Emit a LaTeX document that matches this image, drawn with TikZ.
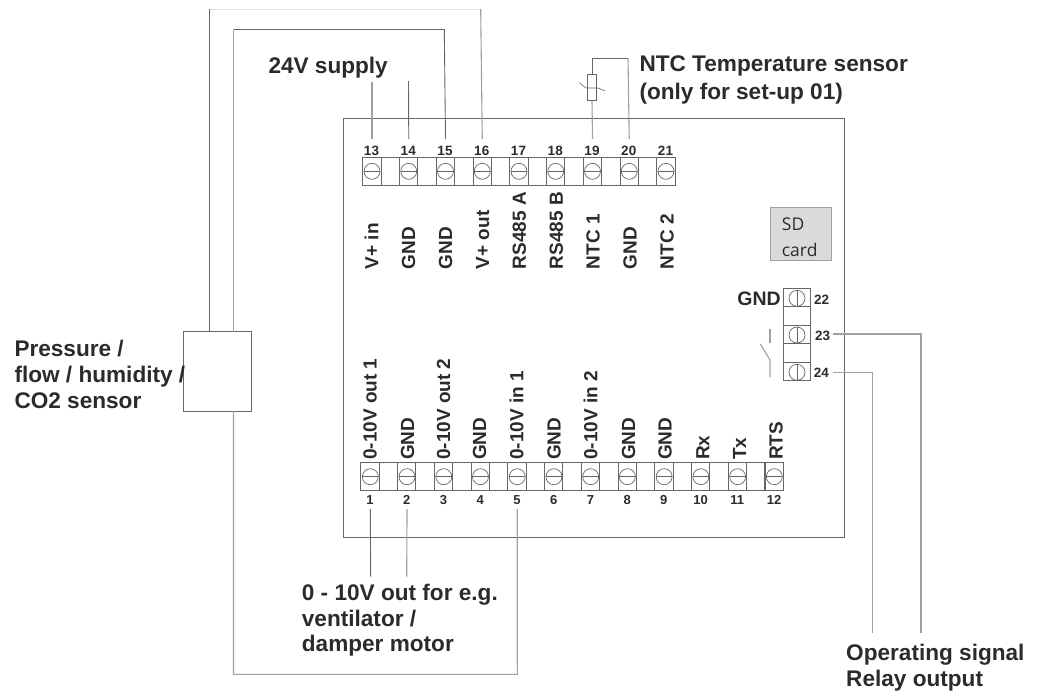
\documentclass[tikz,border=0pt]{standalone}
\usepackage{fontspec}
\setmainfont{Liberation Sans}
\newfontfamily\sdfont{Open Sans}
\definecolor{txt}{HTML}{2B2B2B}
\definecolor{ln}{HTML}{666666}
\definecolor{lnl}{HTML}{A0A0A0}
\definecolor{sdfill}{HTML}{D9DBDA}
\tikzset{
  wire/.style={draw=ln,line width=0.9pt},
  wirel/.style={draw=lnl,line width=1.1pt},
  frame/.style={draw=ln,line width=0.9pt,inner sep=0pt},
  cellh/.style={draw=ln,line width=0.9pt,rectangle,minimum width=18.4pt,minimum height=28pt,inner sep=0pt,outer sep=0pt},
  cellv/.style={draw=ln,line width=0.9pt,rectangle,minimum width=27.4pt,minimum height=18.48pt,inner sep=0pt,outer sep=0pt},
  screw/.style={draw=ln,line width=0.7pt,circle,minimum size=16pt,inner sep=0pt,outer sep=0pt},
  bigt/.style={font=\fontsize{22.6}{26}\bfseries\selectfont,text=txt,inner sep=0pt,anchor=base west},
  sidet/.style={font=\fontsize{19}{22}\bfseries\selectfont,text=txt,inner sep=0pt,anchor=base west,rotate=90},
  numt/.style={font=\fontsize{13.5}{15}\bfseries\selectfont,text=txt,inner sep=0pt,anchor=base},
  numb/.style={font=\fontsize{13}{15}\bfseries\selectfont,text=txt,inner sep=0pt,anchor=base},
}
\begin{document}
\begin{tikzpicture}[x=1pt,y=-1pt]
\useasboundingbox (0,0) rectangle (1042,691);
% main board
\node[frame,rectangle,minimum width=501.3pt,minimum height=418.7pt,anchor=north west] (board) at (343,118) {};
% top strip
\foreach \i in {0,...,16} {
  \node[cellh] (tc\i) at ({372+18.37*\i},171.3) {};
}
\foreach \n [count=\k from 0] in {13,...,21} {
  \pgfmathsetmacro{\xx}{372+36.75*\k}
  \node[screw] (s\n) at (\xx,171.3) {};
  \draw[ln,line width=0.7pt] (s\n.west) -- (s\n.east);
  \node[numt] (n\n) at (\xx-0.5,155) {\n};
  \coordinate (e\n) at (\xx,139);
}
% top side labels
\foreach \t [count=\k from 0] in {V+ in,GND,GND,V+ out,RS485 A,RS485 B,NTC 1,GND,NTC 2} {
  \node[sidet] (tl\k) at ({378.3+36.9*\k},269.3) {\t};
}
% bottom strip
\foreach \i in {0,...,22} {
  \node[cellh] (bc\i) at ({370+18.37*\i},476.7) {};
}
\foreach \n [count=\k from 0] in {1,...,12} {
  \pgfmathsetmacro{\xx}{370.3+36.73*\k}
  \node[screw] (s\n) at (\xx,476.7) {};
  \draw[ln,line width=0.7pt] (s\n.west) -- (s\n.east);
  \node[numb] (n\n) at (\xx-0.3,504.3) {\n};
  \coordinate (e\n) at (\xx,509);
}
\foreach \t/\bx [count=\k from 0] in {0-10V out 1/376.7,GND/414,0-10V out 2/450,GND/486,0-10V in 1/523.3,GND/560.7,0-10V in 2/597.3,GND/635,GND/671.7,Rx/709.3,Tx/746,RTS/782.7} {
  \node[sidet] (bl\k) at (\bx,460) {\t};
}
% right strip
\foreach \i in {0,...,4} {
  \node[cellv] (rc\i) at (797,{297.5+18.48*\i}) {};
}
\foreach \n/\yy in {22/298.3,23/335,24/372.3} {
  \node[screw] (s\n) at (797,\yy) {};
  \draw[ln,line width=0.7pt] (s\n.north) -- (s\n.south);
}
\node[numt,anchor=base west] (n22) at (814,304) {22};
\node[numt,anchor=base west] (n23) at (815,340) {23};
\node[numt,anchor=base west] (n24) at (813.7,377.7) {24};
\node[font=\fontsize{19.5}{22}\bfseries\selectfont,text=txt,inner sep=0pt,anchor=base east] (gndr) at (781,305) {GND};
% SD card
\node[draw=lnl,line width=0.9pt,fill=sdfill,rectangle,minimum width=61pt,minimum height=52.7pt,inner sep=0pt,anchor=north west] (sd) at (770,207) {};
\node[font=\fontsize{17.5}{20}\sdfont\selectfont,text=txt,inner sep=0pt,anchor=base west] (sdt1) at (781.7,230.7) {SD};
\node[font=\fontsize{17.5}{20}\sdfont\selectfont,text=txt,inner sep=0pt,anchor=base west] (sdt2) at (781.7,256.7) {card};
% relay symbol
\coordinate (ra) at (770,329.3);
\coordinate (rb) at (770,343.3);
\coordinate (rc) at (760.3,344);
\coordinate (rd) at (770,360);
\coordinate (re) at (770,377);
\draw[wirel] (ra) -- (rb);
\draw[wirel] (rc) -- (rd) -- (re);
% sensor
\node[frame,rectangle,minimum width=67.5pt,minimum height=79.5pt] (sensor) at (217.25,371.25) {};
% outer wires
\coordinate (a0) at (209.5,331.5);
\coordinate (a1) at (209.5,9);
\coordinate (a2) at (480.7,9);
\draw[wire] (a0) -- (a1);
\draw[draw=black!12,line width=0.9pt] (a1) -- (a2);
\draw[wirel] (a2) -- (e16);
\coordinate (b0) at (233.5,331.5);
\coordinate (b1) at (233.5,29.5);
\coordinate (b2) at (444.3,29.5);
\draw[wirel] (b0) -- (b1);
\draw[wire] (b1) -- (b2) -- (e15);
\coordinate (c0) at (233.5,411);
\coordinate (c1) at (233.5,674.3);
\coordinate (c2) at (517.3,674.3);
\draw[wirel] (c0) -- (c1) -- (c2) -- (e5);
% supply stubs
\coordinate (f13) at (372,81.5);
\coordinate (f14) at (408.5,81);
\draw[wirel] (f13) -- (e13);
\draw[wire] (f14) -- (e14);
% NTC
\coordinate (g1) at (592,58);
\coordinate (g2) at (628,58);
\node[frame,rectangle,minimum width=9.4pt,minimum height=26pt] (ntc) at (592,87) {};
\draw[wirel] (e19) -- (ntc.south);
\draw[wire] (ntc.north) -- (g1) -- (g2);
\draw[wirel] (g2) -- (e20);
\coordinate (h1) at (579.3,82.7);
\coordinate (h2) at (586,88);
\coordinate (h3) at (598,88);
\coordinate (h4) at (605,91);
\draw[wire,line width=0.6pt] (h1) -- (h2) -- (h3) -- (h4);
% bottom stubs
\coordinate (f1) at (370.7,576.7);
\coordinate (f2) at (406.7,576.7);
\draw[wire] (e1) -- (f1);
\draw[wirel] (e2) -- (f2);
% relay wires
\coordinate (j0) at (833,334);
\coordinate (j1) at (921,334);
\coordinate (j2) at (921,632.7);
\coordinate (k0) at (833,372.7);
\coordinate (k1) at (872.7,372.7);
\coordinate (k2) at (872.7,632.7);
\draw[wirel] (j0) -- (j1) -- (j2);
\draw[wirel] (k0) -- (k1) -- (k2);
% big labels
\node[bigt] (l24) at (268.3,73.3) {24V supply};
\node[bigt] (lntc1) at (639.3,71) {NTC Temperature sensor};
\node[bigt] (lntc2) at (639.3,99.3) {(only for set-up 01)};
\node[bigt] (lp1) at (14.3,356.7) {Pressure /};
\node[bigt] (lp2) at (14.3,382.7) {flow / humidity /};
\node[bigt] (lp3) at (14.3,408.3) {CO2 sensor};
\node[bigt] (lv1) at (301.7,600) {0 - 10V out for e.g.};
\node[bigt] (lv2) at (301.7,626) {ventilator /};
\node[bigt] (lv3) at (301.7,651.7) {damper motor};
\node[bigt] (lo1) at (846,660) {Operating signal};
\node[bigt] (lo2) at (846,686) {Relay output};
\end{tikzpicture}
\end{document}
